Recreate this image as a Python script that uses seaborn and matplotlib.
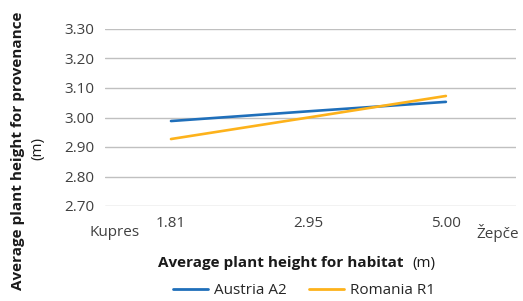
import matplotlib
matplotlib.use("Agg")
import matplotlib.pyplot as plt
import numpy as np
import pandas as pd
import seaborn as sns

# habitat height categories (x axis) and provenance heights per series
habitat_labels = ["1.81", "2.95", "5.00"]
austria_a2 = [2.988, 3.021, 3.053]
romania_r1 = [2.927, 3.000, 3.073]
series_names = ["Austria A2", "Romania R1"]
y_ticks = [2.70, 2.80, 2.90, 3.00, 3.10, 3.20, 3.30]

df = pd.DataFrame({
    "pos": list(np.arange(len(habitat_labels))) * 2,
    "height": austria_a2 + romania_r1,
    "series": [series_names[0]] * 3 + [series_names[1]] * 3,
})

sns.set_style("white")
plt.rcParams["font.family"] = ["Open Sans", "DejaVu Sans"]

W, H = 523, 301
fig = plt.figure(figsize=(W / 100, H / 100), dpi=100)
ax = fig.add_axes([105 / W, 1 - 206 / H, 411 / W, 177 / H])

palette = {"Austria A2": "#1f6fba", "Romania R1": "#fdb21b"}
sns.lineplot(data=df, x="pos", y="height", hue="series", palette=palette,
             linewidth=1.9, ax=ax, legend=False)

ax.set_ylim(2.70, 3.30)
ax.set_xlim(-0.48, 2.51)
ax.set_yticks(y_ticks)
ax.set_yticklabels([f"{v:.2f}" for v in y_ticks], fontsize=11, color="#404040")
ax.set_xticks(np.arange(len(habitat_labels)))
ax.set_xticklabels(habitat_labels, fontsize=11, color="#404040")
ax.tick_params(axis="y", length=0, pad=8)
ax.tick_params(axis="x", length=0, pad=7)
ax.grid(axis="y", color="#c0c0c0", linewidth=1.0)
ax.set_axisbelow(True)
for s in ax.spines.values():
    s.set_visible(False)
ax.set_xlabel("")
ax.set_ylabel("")

# end labels on the x axis
fig.text(115 / W, 1 - 232 / H, "Kupres", ha="center", va="center",
         fontsize=11, color="#404040")
fig.text(476 / W, 1 - 233 / H, "Žepče", ha="left", va="center",
         fontsize=11, color="#404040")

# axis titles: bold part + normal unit
fig.text(158 / W, 1 - 263 / H, "Average plant height for habitat",
         ha="left", va="center", fontsize=11, fontweight="bold", color="#1a1a1a")
fig.text(412 / W, 1 - 263 / H, "(m)", ha="left", va="center",
         fontsize=11, color="#1a1a1a")
fig.text(18 / W, 1 - 151 / H, "Average plant height for provenance",
         ha="center", va="center", rotation=90, fontsize=11,
         fontweight="bold", color="#1a1a1a")
fig.text(38 / W, 1 - 149 / H, "(m)", ha="center", va="center",
         rotation=90, fontsize=11, color="#1a1a1a")

handles = [plt.Line2D([], [], color=palette[n], linewidth=2.0) for n in series_names]
fig.legend(handles, series_names, loc="center", bbox_to_anchor=(304 / W, 1 - 291 / H),
           ncol=2, frameon=False, fontsize=11, handlelength=2.3,
           columnspacing=1.5, handletextpad=0.35, borderpad=0, borderaxespad=0)

fig.savefig("out.png", dpi=100)
